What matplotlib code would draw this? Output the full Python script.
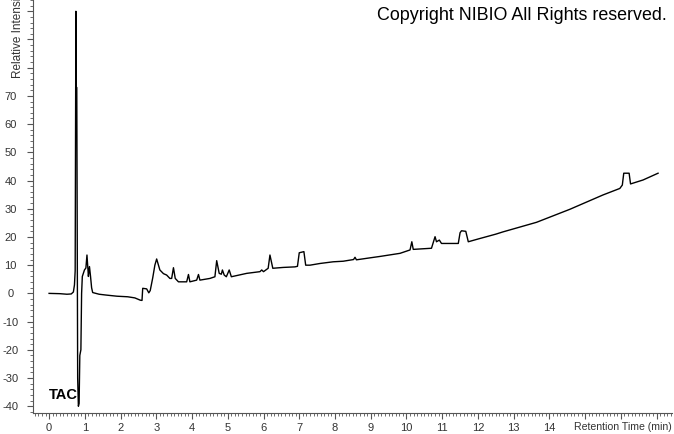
import matplotlib
matplotlib.use('Agg')
import matplotlib.pyplot as plt
from matplotlib.ticker import MultipleLocator

plt.rcParams['font.family'] = ['Liberation Sans', 'DejaVu Sans']

# retention time (min) and relative intensity
rt = [0.0, 0.3, 0.5, 0.62, 0.68, 0.71, 0.73, 0.745, 0.75, 0.76, 0.775,
      0.80, 0.82, 0.84, 0.86, 0.89, 0.91, 0.93, 0.99, 1.03, 1.06, 1.09,
      1.1, 1.13, 1.16, 1.19, 1.22, 1.4, 1.6, 1.9, 2.2, 2.4, 2.55, 2.6,
      2.62, 2.73, 2.79, 2.83, 2.9, 2.96, 3.01, 3.1, 3.2, 3.29, 3.38, 3.43,
      3.48, 3.53, 3.62, 3.85, 3.9, 3.94, 4.13, 4.18, 4.22, 4.5, 4.64, 4.69,
      4.76, 4.82, 4.85, 4.9, 4.96, 5.04, 5.1, 5.53, 5.9, 5.95, 6.0, 6.13,
      6.18, 6.26, 6.55, 6.88, 6.95, 7.0, 7.13, 7.18, 7.3, 7.58, 7.95, 8.23,
      8.52, 8.56, 8.6, 8.98, 9.26, 9.82, 10.1, 10.15, 10.19, 10.7, 10.8,
      10.84, 10.92, 10.98, 11.45, 11.5, 11.54, 11.66, 11.73, 12.01, 12.5,
      12.7, 13.64, 14.57, 15.5, 15.97, 16.04, 16.08, 16.23, 16.27, 16.62,
      17.04]
intensity = [0.0, -0.1, -0.3, -0.2, 0.5, 3, 8, 77, 100, 73, 73,
             -30, -40, -39, -22, -20, 0, 6, 8.3, 9, 13.6, 8,
             6, 9.5, 6, 2, 0.3, -0.3, -0.6, -1.0, -1.2, -1.6, -2.4, -2.5,
             1.8, 1.6, 0.2, 1.0, 5.5, 10, 12.2, 8.3, 7, 6.5, 5.3, 5.3,
             9.1, 5.3, 4.1, 4.1, 6.7, 4.1, 4.7, 6.7, 4.7, 5.3, 5.9, 11.6,
             7.1, 6.8, 8.3, 6.5, 5.9, 8.3, 5.9, 7.1, 7.7, 8.3, 7.7, 8.9,
             13.6, 8.9, 9.2, 9.4, 9.6, 14.4, 14.8, 10, 10, 10.6, 11.2, 11.4,
             12.0, 12.8, 11.9, 12.6, 13.1, 14.2, 15.4, 18.3, 15.6, 16, 20.1,
             18.3, 18.9, 17.7, 17.7, 21.5, 22.2, 22, 18.3, 19.3, 21.0,
             21.8, 25.2, 29.8, 34.9, 37.2, 38.4, 42.6, 42.6, 38.8, 40.2,
             42.6]

x_ticks = list(range(0, 18))
x_labels = [str(v) for v in range(0, 15)] + ['', '', '']
y_ticks = list(range(-40, 101, 10))
y_labels = [str(v) for v in range(-40, 71, 10)] + ['', '', '']

fig = plt.figure(figsize=(6.74, 4.34), dpi=100)
ax = fig.add_axes([33 / 674, 21 / 434, 639 / 674, 413 / 434])
ax.plot(rt, intensity, color='black', linewidth=1.0)

ax.set_xlim(-0.45, 17.43)
ax.set_ylim(-42.4, 104)
ax.set_xticks(x_ticks)
ax.set_xticklabels(x_labels)
ax.set_yticks(y_ticks)
ax.set_yticklabels(y_labels, ha='center')
ax.xaxis.set_minor_locator(MultipleLocator(0.1))
ax.yaxis.set_minor_locator(MultipleLocator(2))
ax.tick_params(which='major', length=4, labelsize=8, labelcolor='#333333', color='#555555')
ax.tick_params(which='minor', length=2.5, color='#555555')
ax.tick_params(axis='x', which='major', pad=3)
ax.tick_params(axis='y', which='major', pad=12)
for s in ['top', 'right']:
    ax.spines[s].set_visible(False)
for s in ['left', 'bottom']:
    ax.spines[s].set_color('#555555')

ax.text(1.0, -0.035, 'Retention Time (min)', transform=ax.transAxes,
        ha='right', va='center', fontsize=7.6, color='#333333')
fig.text(0.027, (434 - 78) / 434, 'Relative Intensity', rotation=90,
         ha='center', va='bottom', fontsize=8.5, color='#333333')
fig.text(0.072, 0.09, 'TAC', fontsize=10.5, fontweight='bold', ha='left', va='center')
fig.text(667 / 674, 1 - 15 / 434, 'Copyright NIBIO All Rights reserved.',
         ha='right', va='center', fontsize=12.9, color='black')

fig.savefig('out.png', dpi=100)
